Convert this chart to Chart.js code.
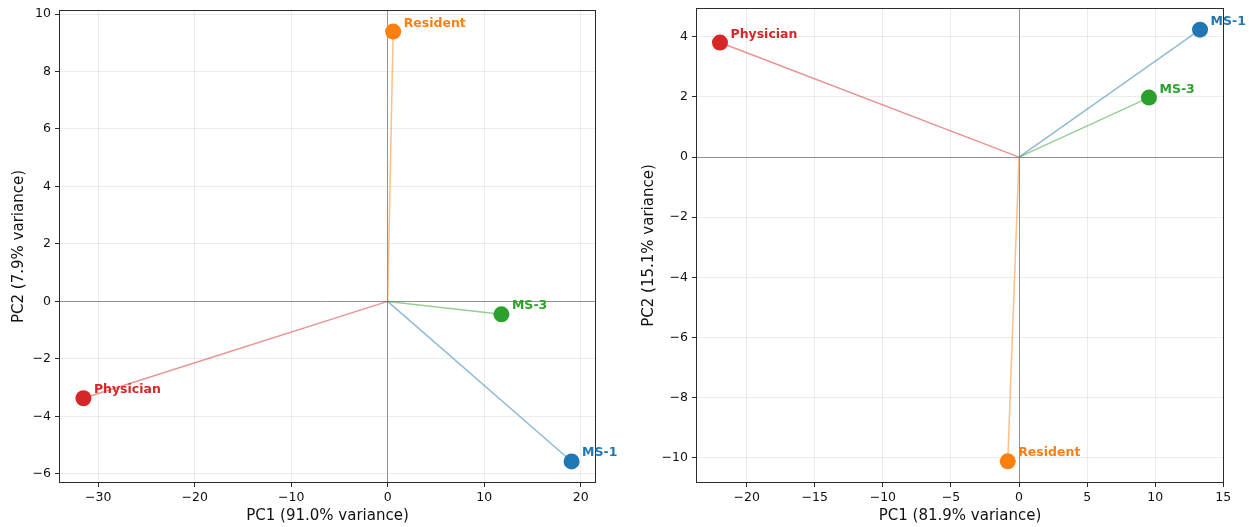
<!DOCTYPE html>
<html>
<head>
<meta charset="utf-8">
<script src="https://cdn.jsdelivr.net/npm/chart.js@4.4.1/dist/chart.umd.min.js"></script>
<style>
  html, body { margin: 0; padding: 0; background: #fff; }
  #wrap { position: relative; width: 1251px; height: 527px; overflow: hidden; }
  canvas { position: absolute; top: 0; }
  #c1 { left: 0; }
  #c2 { left: 630px; }
</style>
</head>
<body>
<div id="wrap">
  <canvas id="c1" width="620" height="527"></canvas>
  <canvas id="c2" width="621" height="527"></canvas>
</div>
<script>
// ---- data ----
const groups = ['MS-1', 'MS-3', 'Resident', 'Physician'];
const groupColors = ['#1f77b4', '#2ca02c', '#ff7f0e', '#d62728'];

// left panel
const leftPC1 = [19.06, 11.79, 0.57, -31.53];
const leftPC2 = [-5.57, -0.45, 9.39, -3.37];
const leftXTitle = 'PC1 (91.0% variance)';
const leftYTitle = 'PC2 (7.9% variance)';
const leftXTicks = [-30, -20, -10, 0, 10, 20];
const leftYTicks = [-6, -4, -2, 0, 2, 4, 6, 8, 10];

// right panel
const rightPC1 = [13.29, 9.54, -0.83, -21.96];
const rightPC2 = [4.24, 1.98, -10.12, 3.81];
const rightXTitle = 'PC1 (81.9% variance)';
const rightYTitle = 'PC2 (15.1% variance)';
const rightXTicks = [-20, -15, -10, -5, 0, 5, 10, 15];
const rightYTicks = [-10, -8, -6, -4, -2, 0, 2, 4];

// ---- helpers ----
Chart.defaults.font.family = "'DejaVu Sans', sans-serif";
Chart.defaults.color = '#111';

function hexA(hex, a) {
  const n = parseInt(hex.slice(1), 16);
  return `rgba(${(n >> 16) & 255},${(n >> 8) & 255},${n & 255},${a})`;
}
function fmt(v) { return v < 0 ? '\u2212' + Math.abs(v) : String(v); }
function noPad(s) { s.paddingTop = 0; s.paddingBottom = 0; s.paddingLeft = 0; s.paddingRight = 0; }

const framePlugin = {
  id: 'frame',
  beforeDatasetsDraw(chart) {
    const { ctx, chartArea: a } = chart;
    ctx.save();
    ctx.strokeStyle = '#2b2b2b';
    ctx.lineWidth = 1;
    ctx.strokeRect(Math.round(a.left) + 0.5, Math.round(a.top) + 0.5,
                   Math.round(a.right - a.left) - 1, Math.round(a.bottom - a.top) - 1);
    ctx.restore();
  }
};

const labelPlugin = {
  id: 'ptlabels',
  afterDatasetsDraw(chart) {
    const { ctx } = chart;
    ctx.save();
    ctx.font = "bold 12.5px 'DejaVu Sans', sans-serif";
    ctx.textAlign = 'left';
    ctx.textBaseline = 'alphabetic';
    chart.data.datasets.forEach((ds, i) => {
      const el = chart.getDatasetMeta(i).data[1];
      ctx.fillStyle = ds.labelColor;
      ctx.fillText(ds.label, el.x + 10.5, el.y - 5);
    });
    ctx.restore();
  }
};

function makeChart(id, pc1, pc2, xTicks, yTicks, xTitle, yTitle, xr, yr, yAxisW, pad) {
  const datasets = groups.map((g, i) => ({
    label: g,
    labelColor: groupColors[i],
    data: [{ x: 0, y: 0 }, { x: pc1[i], y: pc2[i] }],
    showLine: true,
    borderColor: hexA(groupColors[i], 0.5),
    borderWidth: 1.5,
    pointRadius: [0, 8],
    pointBackgroundColor: groupColors[i],
    pointBorderColor: groupColors[i],
    pointBorderWidth: 0,
    pointHoverRadius: [0, 8]
  }));
  const gridColor = (c) => (c.tick && c.tick.value === 0) ? 'rgba(110,110,110,0.75)' : 'rgba(176,176,176,0.3)';
  const gridWidth = (c) => (c.tick && c.tick.value === 0) ? 1 : 0.8;
  return new Chart(document.getElementById(id), {
    type: 'scatter',
    data: { datasets },
    plugins: [framePlugin, labelPlugin],
    options: {
      responsive: false,
      animation: false,
      devicePixelRatio: 1,
      layout: { padding: pad },
      plugins: { legend: { display: false }, tooltip: { enabled: false } },
      scales: {
        x: {
          type: 'linear', min: xr[0], max: xr[1],
          afterBuildTicks: (s) => { s.ticks = xTicks.map(v => ({ value: v })); },
          afterFit: (s) => { s.height = 44; noPad(s); },
          ticks: { callback: fmt, font: { size: 12.5 }, padding: 3, maxRotation: 0, color: '#111' },
          grid: { color: gridColor, lineWidth: gridWidth, tickColor: '#2b2b2b', tickLength: 4, tickWidth: 1 },
          border: { display: false },
          title: { display: true, text: xTitle, font: { size: 15 }, padding: { top: 0, bottom: 2 }, color: '#111' }
        },
        y: {
          type: 'linear', min: yr[0], max: yr[1],
          afterBuildTicks: (s) => { s.ticks = yTicks.map(v => ({ value: v })); },
          afterFit: (s) => { s.width = yAxisW; noPad(s); },
          ticks: { callback: fmt, font: { size: 12.5 }, padding: 4, color: '#111' },
          grid: { color: gridColor, lineWidth: gridWidth, tickColor: '#2b2b2b', tickLength: 4, tickWidth: 1 },
          border: { display: false },
          title: { display: true, text: yTitle, font: { size: 15 }, padding: { top: 10, bottom: 0 }, color: '#111' }
        }
      }
    }
  });
}

makeChart('c1', leftPC1, leftPC2, leftXTicks, leftYTicks, leftXTitle, leftYTitle,
  [-34.06, 21.59], [-6.32, 10.14], 59, { left: 0, right: 24, top: 10, bottom: 0 });
makeChart('c2', rightPC1, rightPC2, rightXTicks, rightYTicks, rightXTitle, rightYTitle,
  [-23.72, 15.05], [-10.84, 4.96], 66, { left: 0, right: 27, top: 7, bottom: 0 });
</script>
</body>
</html>
